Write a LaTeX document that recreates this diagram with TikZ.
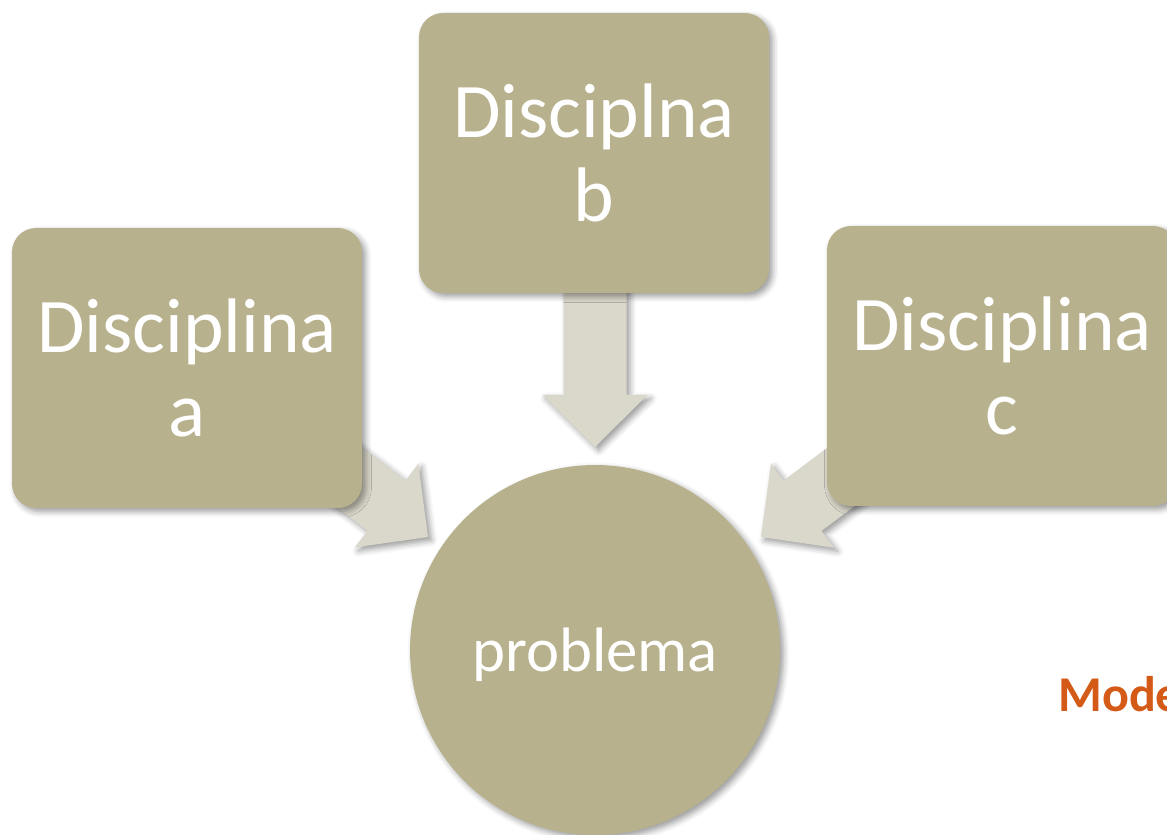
\documentclass[tikz,border=0pt]{standalone}
\usepackage{fontspec}
\setmainfont{Carlito}
\usetikzlibrary{shadows.blur}
\definecolor{boxfill}{HTML}{B8B18D}
\definecolor{arrowfill}{HTML}{DAD8CB}
\definecolor{accent}{HTML}{D45B17}
\begin{document}
\begin{tikzpicture}[x=0.02cm,y=0.02cm,
  soft/.style={blur shadow={shadow xshift=0.07cm,shadow yshift=-0.07cm,
      shadow blur radius=0.12cm,shadow opacity=40}},
  discbox/.style={soft,fill=boxfill,rounded corners=0.48cm,
      minimum width=7cm,minimum height=5.6cm,inner sep=0pt,
      text=white,align=center,font=\fontsize{44}{47.6}\selectfont},
  probcircle/.style={soft,circle,fill=boxfill,minimum size=7.4cm,inner sep=0pt,
      text=white,text depth=0pt,font=\fontsize{35.7}{40}\selectfont},
  blockarrow/.style={soft,fill=arrowfill},
  modelabel/.style={anchor=base west,inner sep=0pt,text=accent,
      font=\bfseries\fontsize{28.5}{32}\selectfont}]
\useasboundingbox (0,0) rectangle (1167,835);
\clip (0,0) rectangle (1167,835);

% tips of the three converging arrows
\coordinate (tipa) at (428,298);
\coordinate (tipb) at (595,388);
\coordinate (tipc) at (761,298);

% arrow shape: pointing along +x with its tip at the origin
\foreach \tip/\ang in {tipa/-37.2, tipb/-90, tipc/216.9}{
  \begin{scope}[shift={(\tip)},rotate=\ang]
    \fill[blockarrow] (0,0) -- (-52,52.5) -- (-52,31.5) -- (-170,31.5)
      -- (-170,-31.5) -- (-52,-31.5) -- (-52,-52.5) -- cycle;
  \end{scope}
}

% discipline boxes
\node[discbox] (da) at (187,467) {Disciplina\\a};
\node[discbox] (db) at (594,682) {Disciplna\\b};
\node[discbox] (dc) at (1002,469) {Disciplina\\c};

% central problem
\node[probcircle] (prob) at (595,185) {problema};

\node[modelabel] (mode) at (1058,123) {Mode};
\end{tikzpicture}
\end{document}
